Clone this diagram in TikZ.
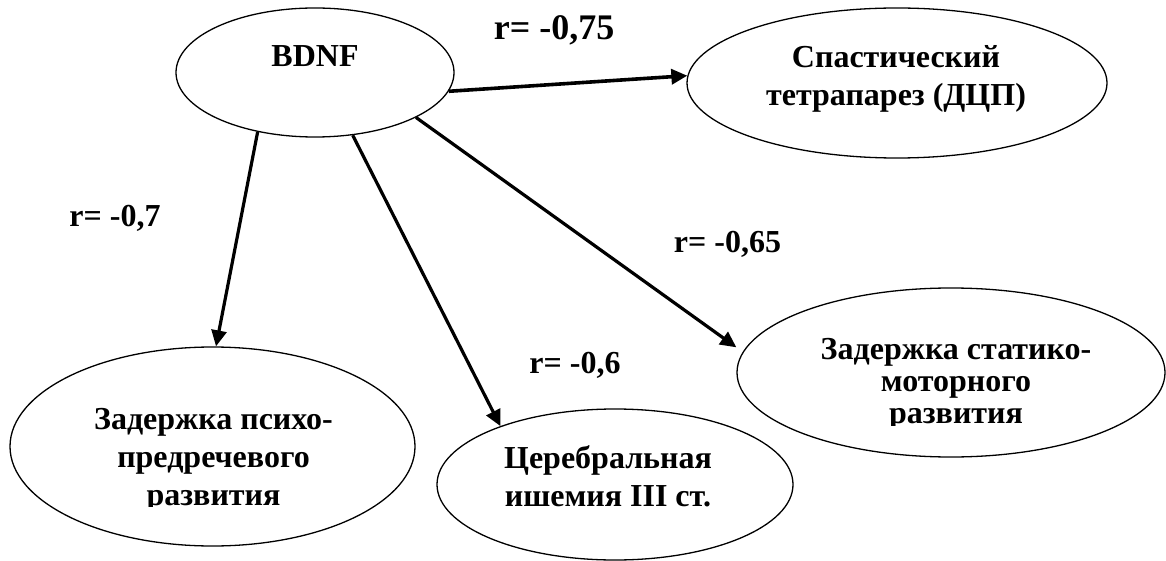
\documentclass[tikz,border=0pt]{standalone}
\usepackage{fontspec}
\setmainfont{Liberation Serif}
\usetikzlibrary{arrows.meta,shapes.geometric}
\newcommand{\lnA}{\rule[-11pt]{0pt}{38pt}}
\newcommand{\lnB}{\rule[-9pt]{0pt}{32pt}}
\begin{document}
\begin{tikzpicture}[x=1pt,y=-1pt,
  ell/.style={draw, line width=1.3pt, ellipse, inner sep=0pt},
  txt/.style={font=\bfseries\fontsize{32}{38}\selectfont, align=center, inner sep=0pt},
  txtb/.style={font=\bfseries\fontsize{32}{32}\selectfont, align=center, inner sep=0pt},
  lab/.style={font=\bfseries\fontsize{32}{38}\selectfont, inner sep=0pt, anchor=base},
  arr/.style={line width=3.2pt, -{Triangle[length=16pt,width=15pt]}}]
\useasboundingbox (0,0) rectangle (1166,561);

% ellipses
\node[ell, minimum width=278pt, minimum height=129pt] (bdnf) at (315,72.5) {};
\node[ell, minimum width=420pt, minimum height=150pt] (spas) at (897,83) {};
\node[ell, minimum width=405pt, minimum height=199pt] (psy) at (212.5,446.5) {};
\node[ell, minimum width=356pt, minimum height=151pt] (cer) at (615,484.5) {};
\node[ell, minimum width=428pt, minimum height=169pt] (stat) at (951,372.5) {};

% texts
\node[lab] (bdnfT) at (315,67) {BDNF};
\node[txt] (spasT) at (896,79) {\lnA Спастический\\\lnA тетрапарез (ДЦП)};
\begin{scope}
  \clip (0,0) rectangle (1166,506);
  \node[txt] (psyT) at (213.5,459.5) {\lnA Задержка психо-\\\lnA предречевого\\\lnA развития};
\end{scope}
\node[txt] (cerT) at (608,479.5) {\lnA Церебральная\\\lnA ишемия III ст.};
\begin{scope}
  \clip (0,0) rectangle (1166,425);
  \node[txtb] (statT) at (956,384) {\lnB Задержка статико-\\\lnB моторного\\\lnB развития};
\end{scope}

% correlation labels
\node[lab, font=\bfseries\fontsize{36}{40}\selectfont] (r1) at (554,40) {r= -0,75};
\node[lab] (r2) at (115,226.7) {r= -0,7};
\node[lab] (r3) at (575,373) {r= -0,6};
\node[lab] (r4) at (727.5,252) {r= -0,65};

% connectors
\draw[arr, line width=3.6pt] (bdnf.-8) -- (spas.178);
\draw[arr] (bdnf.-134) -- (psy.88);
\draw[arr] (bdnf.-59.5) -- (cer.153);
\draw[arr] (bdnf.-24) -- (stat.west |- stat.173);
\end{tikzpicture}
\end{document}
